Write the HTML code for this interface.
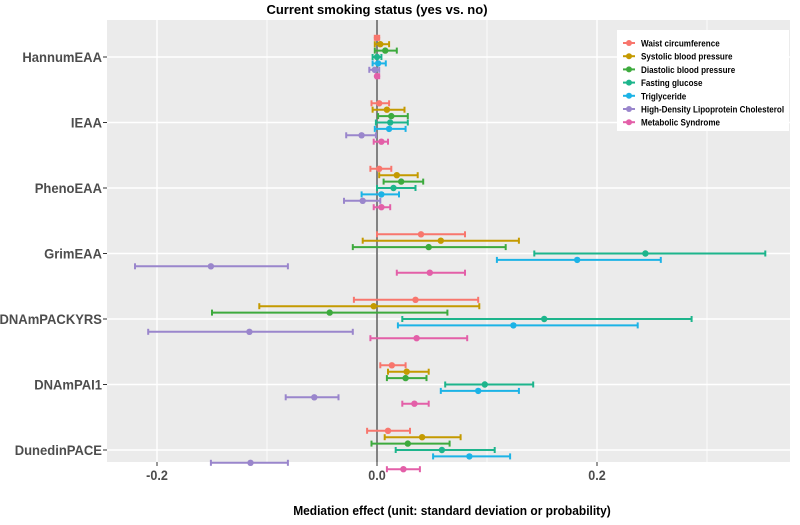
<!DOCTYPE html>
<html><head><meta charset="utf-8"><style>
body{margin:0;background:#fff;font-family:"Liberation Sans",sans-serif}
svg text{font-family:"Liberation Sans",sans-serif}
</style></head><body>
<svg id="chart" width="800" height="520" xmlns="http://www.w3.org/2000/svg"></svg>
<script>
const clocks=["HannumEAA","IEAA","PhenoEAA","GrimEAA","DNAmPACKYRS","DNAmPAI1","DunedinPACE"];
const seriesNames=["Waist circumference","Systolic blood pressure","Diastolic blood pressure","Fasting glucose","Triglyceride","High-Density Lipoprotein Cholesterol","Metabolic Syndrome"];
const waistEst=[0.000,0.002,0.002,0.040,0.035,0.0135,0.010];
const waistLo=[-0.002,-0.005,-0.006,0.000,-0.021,0.003,-0.009];
const waistHi=[0.002,0.011,0.013,0.080,0.092,0.026,0.030];
const sysEst=[0.003,0.009,0.018,0.058,-0.003,0.027,0.041];
const sysLo=[-0.002,-0.004,0.002,-0.013,-0.107,0.010,0.007];
const sysHi=[0.011,0.025,0.037,0.129,0.093,0.047,0.076];
const diaEst=[0.0075,0.013,0.022,0.047,-0.043,0.026,0.028];
const diaLo=[-0.002,0.001,0.006,-0.022,-0.150,0.009,-0.005];
const diaHi=[0.018,0.028,0.042,0.117,0.064,0.045,0.066];
const gluEst=[0.000,0.012,0.015,0.244,0.152,0.098,0.059];
const gluLo=[-0.004,-0.001,0.000,0.143,0.023,0.062,0.017];
const gluHi=[0.004,0.028,0.035,0.353,0.286,0.142,0.107];
const triEst=[0.001,0.011,0.004,0.182,0.124,0.092,0.084];
const triLo=[-0.004,-0.002,-0.014,0.109,0.019,0.058,0.051];
const triHi=[0.008,0.026,0.020,0.258,0.237,0.129,0.121];
const hdlEst=[-0.002,-0.014,-0.013,-0.151,-0.116,-0.057,-0.115];
const hdlLo=[-0.007,-0.028,-0.030,-0.220,-0.208,-0.083,-0.151];
const hdlHi=[0.002,-0.001,0.003,-0.081,-0.022,-0.035,-0.081];
const metsEst=[0.000,0.004,0.004,0.048,0.036,0.034,0.024];
const metsLo=[-0.001,-0.003,-0.003,0.018,-0.006,0.023,0.009];
const metsHi=[0.002,0.010,0.012,0.080,0.082,0.047,0.039];
const xTicks=[-0.2,0.0,0.2];
const xTickLabels=["-0.2","0.0","0.2"];
const xMinor=[-0.1,0.1,0.3];

const colors=["#F8766D","#C49A00","#3DAA3D","#1DB58C","#1CB3E6","#9A86CC","#E35FA8"];
const est=[waistEst,sysEst,diaEst,gluEst,triEst,hdlEst,metsEst];
const lo=[waistLo,sysLo,diaLo,gluLo,triLo,hdlLo,metsLo];
const hi=[waistHi,sysHi,diaHi,gluHi,triHi,hdlHi,metsHi];
const PL=107,PR=790,PT=20,PB=462;
const X=v=>377+v*1100;
const Y=i=>57+i*65.5;
const svg=document.getElementById('chart');
const NS="http://www.w3.org/2000/svg";
function mk(tag,a,parent){const e=document.createElementNS(NS,tag);for(const k in a)e.setAttribute(k,a[k]);(parent||svg).appendChild(e);return e;}
function squeeze(t,f){const w=t.getComputedTextLength();t.setAttribute('textLength',(w*f).toFixed(1));t.setAttribute('lengthAdjust','spacingAndGlyphs');}
let bg=mk('rect',{x:PL,y:PT,width:PR-PL,height:PB-PT,fill:"#EBEBEB"});


xMinor.forEach(v=>{let l=mk('line',{x1:X(v),x2:X(v),y1:PT,y2:PB,stroke:"#fff","stroke-width":0.8});

});
xTicks.forEach((v,i)=>{let l=mk('line',{x1:X(v),x2:X(v),y1:PT,y2:PB,stroke:"#fff","stroke-width":1.4});


let t=mk('line',{x1:X(v),x2:X(v),y1:PB,y2:PB+4,stroke:"#333","stroke-width":1});


let tx=mk('text',{x:X(v),y:PB+18,"text-anchor":"middle","font-size":14,fill:"#4D4D4D","font-weight":"bold"});tx.textContent=xTickLabels[i];


squeeze(tx,0.9);});
clocks.forEach((c,i)=>{let l=mk('line',{x1:PL,x2:PR,y1:Y(i),y2:Y(i),stroke:"#fff","stroke-width":1.4});


let t=mk('line',{x1:PL-4,x2:PL,y1:Y(i),y2:Y(i),stroke:"#333","stroke-width":1});


let tx=mk('text',{x:PL-5,y:Y(i)+5,"text-anchor":"end","font-size":14,fill:"#4D4D4D","font-weight":"bold"});tx.textContent=c;


squeeze(tx,0.93);});
let z=mk('line',{x1:X(0),x2:X(0),y1:PT,y2:PB,stroke:"#666","stroke-width":1.6});


for(let s=0;s<7;s++){for(let i=0;i<7;i++){
 const y=Y(i)+(s-3)*6.4;
 const g=mk('g',{stroke:colors[s],"stroke-width":2,fill:colors[s]});
 
 
 mk('line',{x1:X(lo[s][i]),x2:X(hi[s][i]),y1:y,y2:y},g);
 mk('line',{x1:X(lo[s][i]),x2:X(lo[s][i]),y1:y-3,y2:y+3},g);
 mk('line',{x1:X(hi[s][i]),x2:X(hi[s][i]),y1:y-3,y2:y+3},g);
 mk('circle',{cx:X(est[s][i]),cy:y,r:3.2,stroke:"none"},g);
}}
const lg=mk('g',{});


mk('rect',{x:617,y:30,width:172,height:101,fill:"#fff"},lg);
seriesNames.forEach((n,s)=>{const y=43+s*13.2;
 const e=mk('g',{},lg);
 
 
 mk('line',{x1:623,x2:635,y1:y,y2:y,stroke:colors[s],"stroke-width":2},e);
 mk('circle',{cx:629,cy:y,r:3,fill:colors[s]},e);
 const t=mk('text',{x:641,y:y+3.5,"font-size":9.5,"font-weight":"bold",fill:"#000"},e);t.textContent=n;
 squeeze(t,0.85);});
let tt=mk('text',{x:377,y:14,"text-anchor":"middle","font-size":13,"font-weight":"bold",fill:"#000"});tt.textContent="Current smoking status (yes vs. no)";


let xt=mk('text',{x:452,y:515,"text-anchor":"middle","font-size":13,"font-weight":"bold",fill:"#000"});xt.textContent="Mediation effect (unit: standard deviation or probability)";


squeeze(xt,0.92);
</script>
</body></html>
